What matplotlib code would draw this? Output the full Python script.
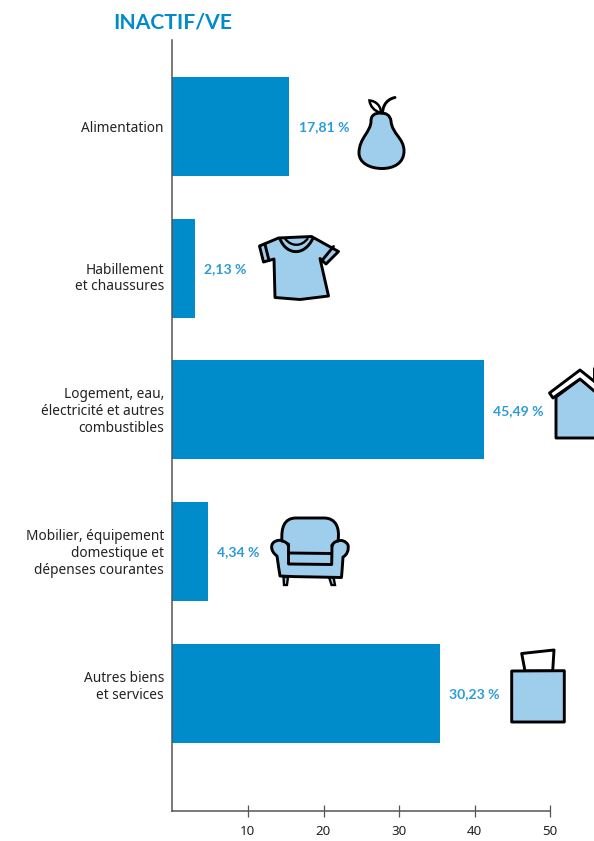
import matplotlib
matplotlib.use('Agg')
import matplotlib.pyplot as plt
from matplotlib.path import Path
from matplotlib.patches import PathPatch, Polygon

plt.rcParams['font.family'] = ['Noto Sans', 'DejaVu Sans']

# Data (bar lengths do not match the printed percentages)
categories = ['Alimentation', 'Habillement\net chaussures',
              'Logement, eau,\nélectricité et autres\ncombustibles',
              'Mobilier, équipement\ndomestique et\ndépenses courantes',
              'Autres biens\net services']
bar_lengths = [15.5, 2.96, 41.2, 4.67, 35.4]
value_labels = ['17,81 %', '2,13 %', '45,49 %', '4,34 %', '30,23 %']
x_ticks = [10, 20, 30, 40, 50]

BLUE = '#008bcb'
TEXT_BLUE = '#2b9cd8'
ICON_BLUE = '#9fcdec'
AXIS_GREY = '#555555'
TEXT_COL = '#222222'
W, H = 594, 841
BOLD_FONT = ['Lato', 'DejaVu Sans']

# the category labels do not all sit on the bar centre, shift in points
label_shift = [-1.5, -7.5, -1.2, -1.2, 4.5]

fig = plt.figure(figsize=(W / 100, H / 100), dpi=100)

# axes placed so that 0 -> x=172.3px, 10 units = 75.6px, bars every 141.75px
left, bottom_px, top_px = 172.3, 810.7, 40
ax = fig.add_axes([left / W, 1 - bottom_px / H, (W - left) / W, (bottom_px - top_px) / H])
ax.barh(range(len(categories)), bar_lengths, height=0.698, color=BLUE)
ax.set_xlim(0, (W - left) / 7.56)
ax.set_ylim((bottom_px - 126.3) / 141.75, (top_px - 126.3) / 141.75)

ax.set_yticks([])
ax.set_xticks(x_ticks)
ax.set_xticklabels(x_ticks, fontsize=9.6, color=TEXT_COL)
ax.tick_params(axis='x', direction='inout', length=8, width=0.9, color=AXIS_GREY, pad=6.2)

for s in ['top', 'right']:
    ax.spines[s].set_visible(False)
for s in ['left', 'bottom']:
    ax.spines[s].set_color(AXIS_GREY)
    ax.spines[s].set_linewidth(1.1)
ax.spines['bottom'].set_bounds(0, 50)

for i, (cat, dy) in enumerate(zip(categories, label_shift)):
    ax.annotate(cat, (0, i), xytext=(-6, dy), textcoords='offset points', va='center', ha='right',
                fontsize=9.85, color=TEXT_COL, linespacing=1.17, annotation_clip=False)

for i, (v, lab) in enumerate(zip(bar_lengths, value_labels)):
    ax.annotate(lab, (v, i), xytext=(6.8, -0.7), textcoords='offset points', va='center',
                fontsize=10.05, fontweight='bold', family=BOLD_FONT, color=TEXT_BLUE)

fig.text(113 / W, 1 - 22.5 / H, 'INACTIF/VE', fontsize=15.2, fontweight='bold', family=BOLD_FONT,
         color=BLUE, va='center', ha='left')

# Icons are drawn on an overlay in pixel coordinates
ov = fig.add_axes([0, 0, 1, 1])
ov.set_xlim(0, W)
ov.set_ylim(H, 0)
ov.axis('off')
ov.patch.set_alpha(0)

LW = 2.1
style = dict(facecolor=ICON_BLUE, edgecolor='black', linewidth=LW, joinstyle='round')
line = dict(color='black', linewidth=LW, solid_capstyle='round', solid_joinstyle='round')
open_line = dict(fill=False, edgecolor='black', linewidth=LW, capstyle='round')


def curve(start, *segs, close=False):
    verts = [start]
    codes = [Path.MOVETO]
    for seg in segs:
        verts.extend(seg)
        codes.extend([Path.CURVE4] * 3)
    if close:
        verts.append(start)
        codes.append(Path.CLOSEPOLY)
    return Path(verts, codes)


# pear
ov.add_patch(PathPatch(curve((381, 113),
                             [(375, 113), (371, 115), (371, 121)],
                             [(371, 132), (359, 138), (359, 153)],
                             [(359, 163), (370, 168.5), (382, 168.5)],
                             [(394, 168.5), (404, 163), (404, 151)],
                             [(404, 138), (392, 134), (391, 121)],
                             [(390, 115), (386, 113), (381, 113)], close=True), **style))
ov.add_patch(PathPatch(curve((382.5, 113), [(383, 104), (388, 99), (395, 97.5)]), **open_line))
ov.add_patch(PathPatch(curve((381, 113), [(374, 111), (370, 106), (369.5, 100.5)],
                             [(376, 101), (381, 106), (381, 113)], close=True),
                       facecolor='white', edgecolor='black', linewidth=LW * 0.85))

# t-shirt
ov.add_patch(Polygon([(278.5, 238), (259.5, 246), (263.5, 262), (274, 259), (275, 297.5),
                      (300, 299.5), (328.5, 296), (320, 258.5), (326, 264), (338.5, 251.5),
                      (311.5, 236.5)], closed=True, **style))
ov.add_patch(PathPatch(curve((280, 239), [(287, 256), (305, 256), (313, 238)]), **open_line))
ov.add_patch(PathPatch(curve((285, 238.5), [(291, 247), (302, 247), (308, 238)]),
                       fill=False, edgecolor='black', linewidth=LW * 0.8))
ov.plot([265, 269], [244.5, 260.5], **line)
ov.plot([333.5, 322], [246.5, 260.5], **line)

# house, cut by the right edge of the picture
ov.add_patch(Polygon([(556, 397), (580, 379), (600, 393), (600, 438), (556, 438)],
                     closed=True, **style))
ov.add_patch(Polygon([(549.5, 393), (580, 370), (600, 386), (600, 396), (580, 379), (553, 398)],
                     closed=True, facecolor='white', edgecolor='black', linewidth=LW,
                     joinstyle='round'))
ov.plot([593.5, 593.5], [368, 381], **line)

# armchair: legs, then the whole outline, then the inner lines
ov.add_patch(Polygon([(283.5, 577), (288, 577), (287, 585), (284, 585)], closed=True,
                     facecolor=ICON_BLUE, edgecolor='black', linewidth=LW * 0.8))
ov.add_patch(Polygon([(329, 577), (333.5, 577), (335, 585), (331.5, 585)], closed=True,
                     facecolor=ICON_BLUE, edgecolor='black', linewidth=LW * 0.8))
ov.add_patch(PathPatch(curve((277, 556),
                             [(270, 551), (270, 543), (276, 541)],
                             [(279, 540), (281, 540), (282, 541)],
                             [(281, 528), (284, 518), (296, 518)],
                             [(305, 518), (315, 518), (324, 518)],
                             [(336, 518), (340, 528), (338, 541)],
                             [(341, 539.5), (346, 541), (348, 545)],
                             [(349, 550), (347, 555), (343, 557)],
                             [(342.5, 565), (342, 571), (341.5, 577.5)],
                             [(320, 577), (300, 577), (280, 576)],
                             [(279, 570), (278, 563), (277, 556)], close=True), **style))
ov.plot([288.5, 288.5, 331.7, 332], [544, 564, 564.5, 545], **line)
ov.plot([288.5, 331.8], [553, 553.5], **line)
ov.add_patch(PathPatch(curve((282, 541), [(285, 541.5), (287.5, 543), (288.5, 546)]), **open_line))
ov.add_patch(PathPatch(curve((338, 541), [(335, 541.5), (333, 543), (332, 546)]), **open_line))

# box
ov.add_patch(Polygon([(525, 671), (521.7, 653.5), (554, 650), (552.7, 671)], closed=True,
                     facecolor='white', edgecolor='black', linewidth=LW, joinstyle='round'))
ov.add_patch(Polygon([(511.7, 671), (564.3, 670.7), (564.3, 722), (511.7, 722)], closed=True, **style))

plt.savefig('out.png', dpi=100)
